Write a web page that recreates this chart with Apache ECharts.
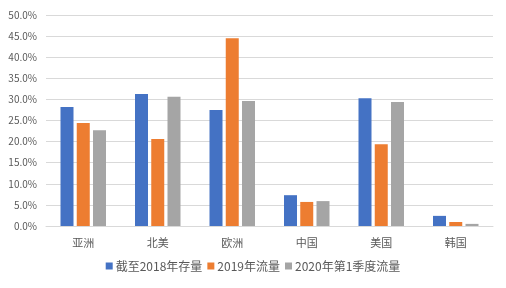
<!DOCTYPE html>
<html><head><meta charset="utf-8">
<script src="https://cdn.jsdelivr.net/npm/echarts@6/dist/echarts.min.js"></script>
<style>html,body{margin:0;padding:0;background:#fff}#c{width:506px;height:288px}</style>
</head><body><div id="c"></div>
<script>
const categories = ['亚洲','北美','欧洲','中国','美国','韩国'];
const seriesNames = ['截至2018年存量','2019年流量','2020年第1季度流量'];
const stock2018 = [28.2, 31.3, 27.5, 7.3, 30.3, 2.4];
const flow2019 = [24.4, 20.6, 44.5, 5.7, 19.4, 0.95];
const flow2020Q1 = [22.7, 30.6, 29.6, 5.9, 29.4, 0.5];
const colors = ['#4472C4','#ED7D31','#A5A5A5'];
const font = '"Noto Sans CJK SC", sans-serif';
const chart = echarts.init(document.getElementById('c'));
chart.setOption({
  animation:false,
  textStyle:{fontFamily:font},
  grid:{left:46,right:13,top:15,bottom:62},
  legend:{bottom:11,left:'center',itemWidth:7,itemHeight:7,itemGap:5,icon:'rect',
    textStyle:{fontSize:12,color:'#595959',fontFamily:font,padding:[0,0,0,-2]}},
  xAxis:{type:'category',data:categories,
    axisLine:{lineStyle:{color:'#d9d9d9'}},axisTick:{show:false},
    axisLabel:{fontSize:11,color:'#595959',margin:11,fontFamily:font}},
  yAxis:{type:'value',min:0,max:50,interval:5,
    axisLabel:{formatter:v=>v.toFixed(1)+'%',fontSize:10,color:'#595959',margin:9,fontFamily:font},
    splitLine:{lineStyle:{color:'#d9d9d9'}},axisLine:{show:false},axisTick:{show:false}},
  series:[stock2018,flow2019,flow2020Q1].map((d,i)=>({
    name:seriesNames[i],type:'bar',data:d,barWidth:13,barGap:'25%',
    itemStyle:{color:colors[i]}}))
});
</script></body></html>
